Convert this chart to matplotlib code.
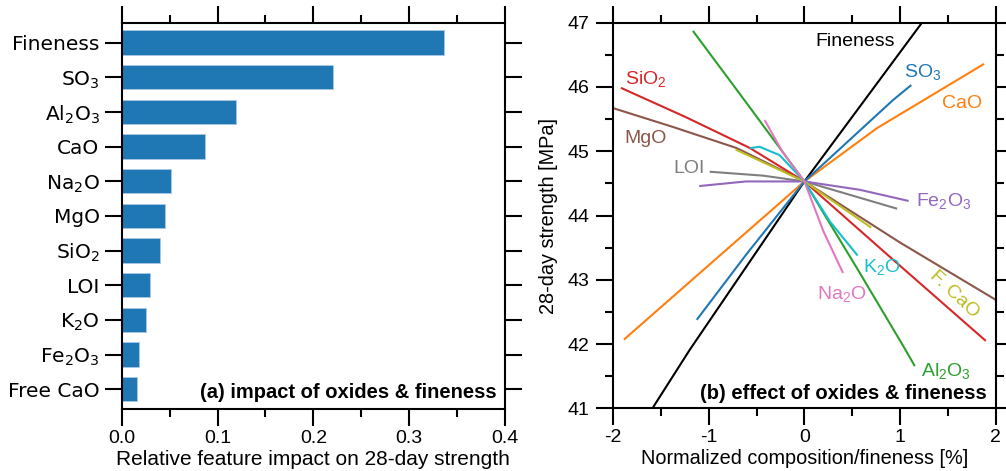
import matplotlib
matplotlib.use("Agg")
import matplotlib.pyplot as plt
from matplotlib.ticker import MultipleLocator

# (a) relative feature impact, top to bottom
features = ['Fineness', 'SO$_3$', 'Al$_2$O$_3$', 'CaO', 'Na$_2$O', 'MgO',
            'SiO$_2$', 'LOI', 'K$_2$O', 'Fe$_2$O$_3$', 'Free CaO']
impact = [0.336, 0.220, 0.119, 0.087, 0.051, 0.045, 0.040, 0.030, 0.025, 0.018, 0.016]

# (b) strength vs normalized composition
fineness_x = [-1.59, -1.2, 0.0, 1.23]
fineness_y = [41.0, 41.91, 44.53, 47.0]
so3_x = [-1.12, -0.61, 0.0, 0.93, 1.11]
so3_y = [42.39, 43.39, 44.53, 45.80, 46.02]
cao_x = [-1.88, -0.96, 0.0, 0.76, 1.87]
cao_y = [42.08, 43.28, 44.53, 45.36, 46.35]
sio2_x = [-1.91, -1.24, -0.57, 0.0, 0.93, 1.89]
sio2_y = [45.98, 45.53, 45.05, 44.53, 43.31, 42.06]
mgo_x = [-2.0, -1.38, -0.71, 0.0, 1.0, 2.0]
mgo_y = [45.67, 45.38, 45.05, 44.53, 43.58, 42.69]
al2o3_x = [-1.16, -0.6, 0.0, 0.55, 1.05, 1.15]
al2o3_y = [46.86, 45.74, 44.53, 43.18, 41.93, 41.67]
na2o_x = [-0.41, -0.23, 0.0, 0.20, 0.40]
na2o_y = [45.47, 44.99, 44.53, 43.75, 43.12]
k2o_x = [-0.56, -0.47, -0.26, 0.0, 0.27, 0.55]
k2o_y = [45.05, 45.07, 44.94, 44.53, 43.90, 43.39]
fcao_x = [-0.71, 0.0, 0.69]
fcao_y = [45.02, 44.53, 43.82]
loi_x = [-0.98, -0.43, 0.0, 0.48, 0.96]
loi_y = [44.68, 44.62, 44.53, 44.32, 44.11]
fe2o3_x = [-1.09, -0.61, 0.0, 0.58, 1.08]
fe2o3_y = [44.46, 44.53, 44.53, 44.40, 44.23]

plt.rcParams['font.family'] = ['Liberation Sans', 'DejaVu Sans']
plt.rcParams['mathtext.default'] = 'regular'
plt.rcParams['axes.unicode_minus'] = False
plt.rcParams['axes.linewidth'] = 1.5

FS = 14


def style_ticks(ax):
    ax.tick_params(which='both', direction='out', width=1.5,
                   top=True, right=True, labelsize=FS)
    ax.tick_params(which='major', length=12)
    ax.tick_params(which='minor', length=6)


fig = plt.figure(figsize=(10.06, 4.71), dpi=100)
ax1 = fig.add_axes([0.121, 0.1316, 0.381, 0.820])
ax2 = fig.add_axes([0.6096, 0.1331, 0.380, 0.8187])

# ---- (a) bar chart
pos = list(range(len(features)))
ax1.barh(pos, impact, height=0.7, color='#1f77b4', edgecolor='#a9c9e6', linewidth=0.6)
ax1.set_yticks(pos)
ax1.set_yticklabels(features, family='DejaVu Sans', fontsize=14.5)
ax1.set_ylim(len(features) - 0.43, -0.57)
ax1.set_xlim(0, 0.4)
ax1.xaxis.set_major_locator(MultipleLocator(0.1))
ax1.xaxis.set_minor_locator(MultipleLocator(0.05))
style_ticks(ax1)
ax1.tick_params(axis='y', which='major', pad=4, labelsize=14.5)
ax1.tick_params(axis='x', pad=3)
ax1.set_xlabel('Relative feature impact on 28-day strength', fontsize=15, labelpad=2)
ax1.annotate('(a) impact of oxides & fineness', xy=(1, 0), xycoords='axes fraction',
             xytext=(-6, 8), textcoords='offset points', ha='right', va='baseline',
             fontsize=14.5, fontweight='bold')

# ---- (b) effect curves
lw = 1.5
curves = [
    (fineness_x, fineness_y, 'black'),
    (cao_x, cao_y, '#ff7f0e'),
    (so3_x, so3_y, '#1f77b4'),
    (mgo_x, mgo_y, '#8c564b'),
    (sio2_x, sio2_y, '#d62728'),
    (loi_x, loi_y, '#7f7f7f'),
    (fe2o3_x, fe2o3_y, '#9467bd'),
    (al2o3_x, al2o3_y, '#2ca02c'),
    (fcao_x, fcao_y, '#bcbd22'),
    (k2o_x, k2o_y, '#17becf'),
    (na2o_x, na2o_y, '#e377c2'),
]
for xs, ys, c in curves:
    ax2.plot(xs, ys, color=c, lw=lw)

labels = [
    ('Fineness', 0.95, 46.70, 'black', 'right'),
    ('SO$_3$', 1.04, 46.24, '#1f77b4', 'left'),
    ('CaO', 1.44, 45.75, '#ff7f0e', 'left'),
    ('SiO$_2$', -1.88, 46.13, '#d62728', 'left'),
    ('MgO', -1.88, 45.20, '#8c564b', 'left'),
    ('LOI', -1.37, 44.73, '#7f7f7f', 'left'),
    ('Fe$_2$O$_3$', 1.17, 44.22, '#9467bd', 'left'),
    ('K$_2$O', 0.61, 43.20, '#17becf', 'left'),
    ('Na$_2$O', 0.13, 42.78, '#e377c2', 'left'),
    ('Al$_2$O$_3$', 1.22, 41.58, '#2ca02c', 'left'),
]
for txt, x, y, c, ha in labels:
    ax2.text(x, y, txt, color=c, ha=ha, va='center', fontsize=FS)
ax2.text(1.57, 42.78, 'F. CaO', color='#bcbd22', ha='center', va='center',
         fontsize=FS, rotation=-43, rotation_mode='anchor')

ax2.set_xlim(-2, 2)
ax2.set_ylim(41, 47)
ax2.xaxis.set_major_locator(MultipleLocator(1))
ax2.xaxis.set_minor_locator(MultipleLocator(0.5))
ax2.yaxis.set_major_locator(MultipleLocator(1))
ax2.yaxis.set_minor_locator(MultipleLocator(0.5))
style_ticks(ax2)
ax2.tick_params(axis='y', pad=5)
ax2.tick_params(axis='x', pad=3)
ax2.set_xlabel('Normalized composition/fineness [%]', fontsize=14.3, labelpad=2)
ax2.set_ylabel('28-day strength [MPa]', fontsize=14.3, labelpad=7)
ax2.annotate('(b) effect of oxides & fineness', xy=(1, 0), xycoords='axes fraction',
             xytext=(-6, 7), textcoords='offset points', ha='right', va='baseline',
             fontsize=14.5, fontweight='bold')

fig.savefig('out.png', dpi=100, facecolor='white')
